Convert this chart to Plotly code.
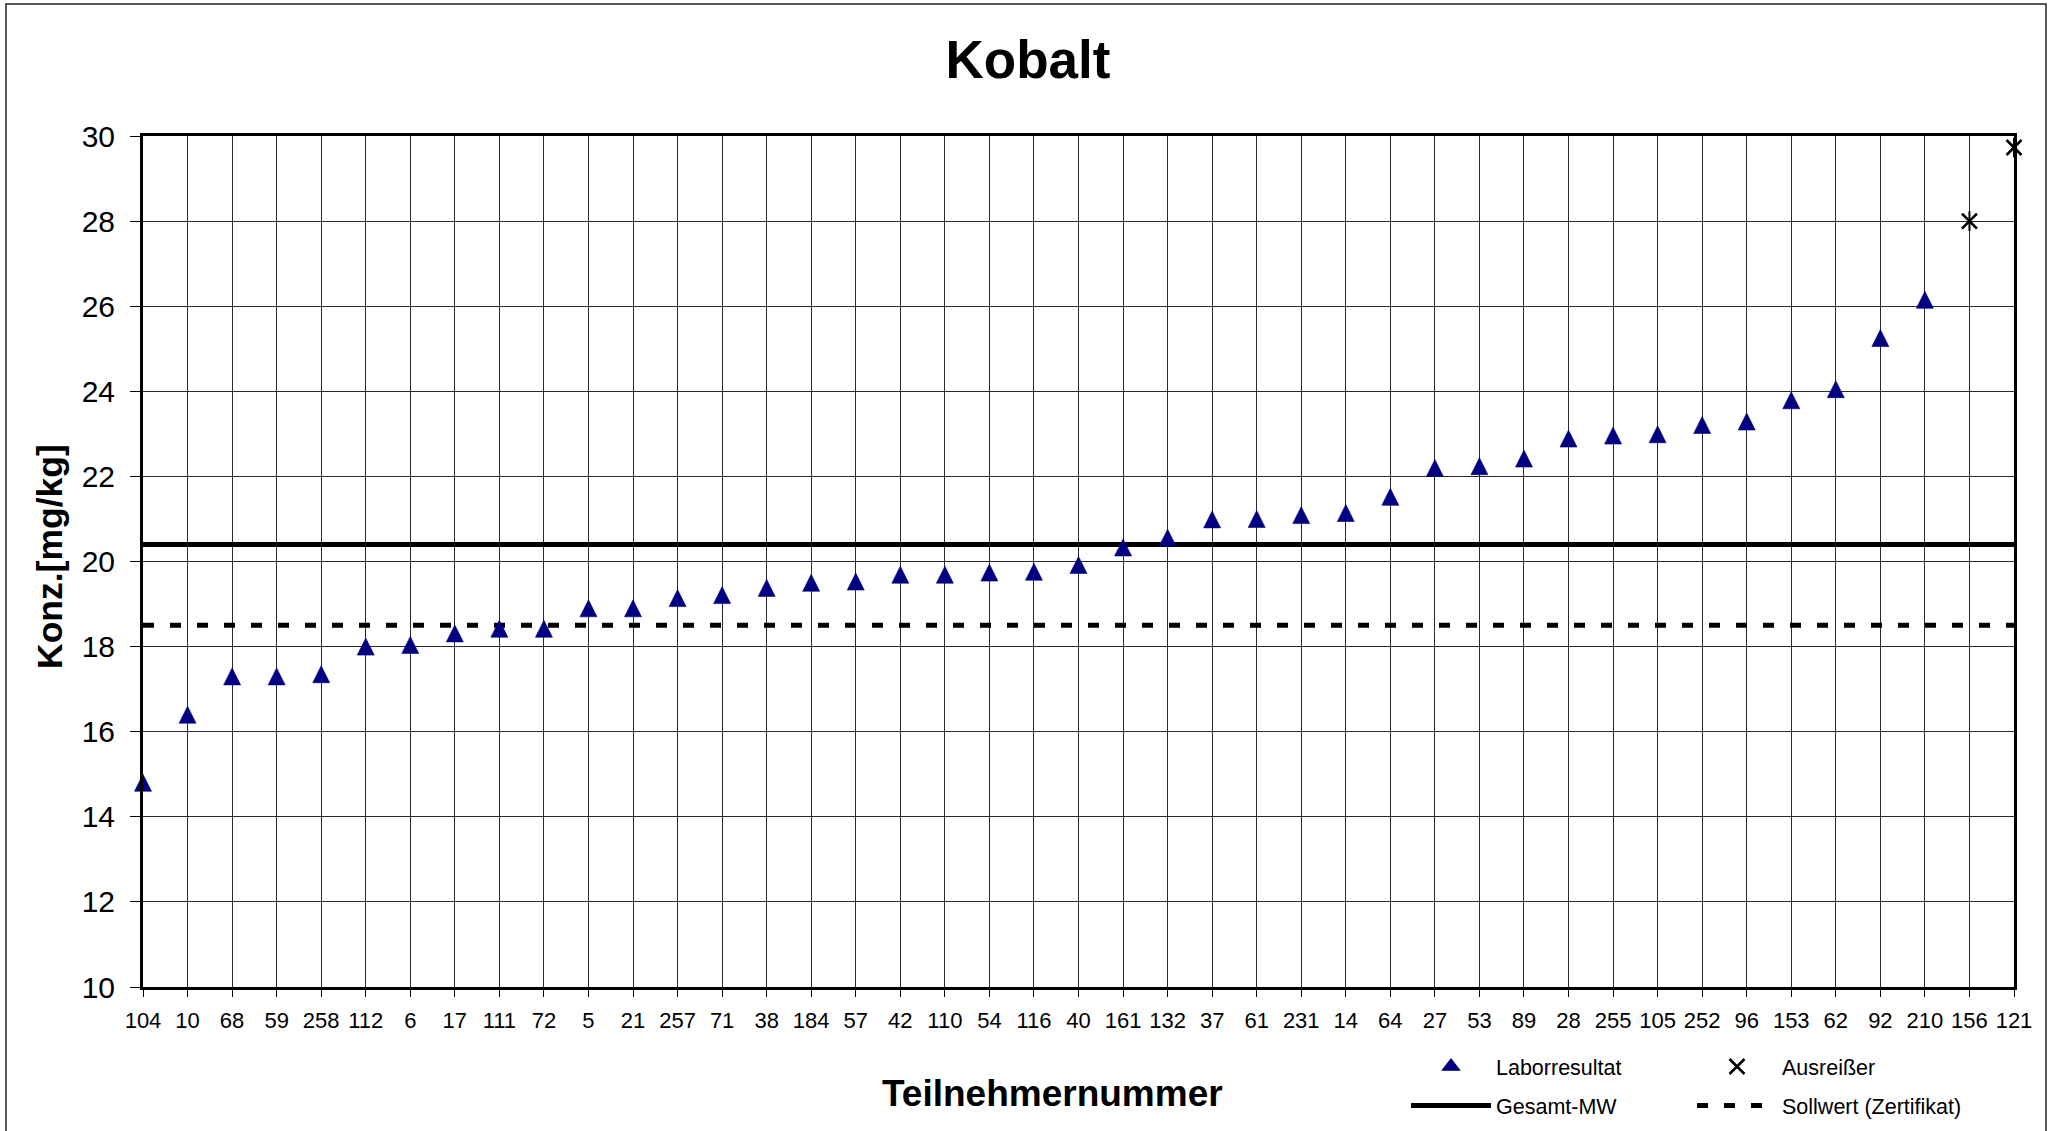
import plotly.graph_objects as go

# ---- data ----
categories = ["104", "10", "68", "59", "258", "112", "6", "17", "111", "72", "5", "21",
              "257", "71", "38", "184", "57", "42", "110", "54", "116", "40", "161", "132",
              "37", "61", "231", "14", "64", "27", "53", "89", "28", "255", "105", "252",
              "96", "153", "62", "92", "210", "156", "121"]
labor_labels = categories[:41]
labor_values = [14.8, 16.4, 17.3, 17.3, 17.35, 18.0, 18.04, 18.31, 18.42, 18.42, 18.9, 18.9,
                19.14, 19.21, 19.38, 19.5, 19.53, 19.69, 19.69, 19.74, 19.76, 19.92, 20.33, 20.56,
                20.99, 21.0, 21.09, 21.14, 21.52, 22.2, 22.24, 22.42, 22.89, 22.96, 22.99, 23.21,
                23.29, 23.79, 24.05, 25.25, 26.15]
outlier_labels = ["156", "121"]
outlier_values = [28.0, 29.73]
gesamt_mw = 20.4
sollwert = 18.5
y_ticks = [10, 12, 14, 16, 18, 20, 22, 24, 26, 28, 30]

FONT = "Liberation Sans, Arial, sans-serif"
NAVY = "#000080"

W, H = 2056, 1131
L, R, T, B = 143, 42, 136, 144
PW, PH = W - L - R, H - T - B


def px_x(p):
    return (p - L) / PW


def px_y(p):
    return (H - B - p) / PH


fig = go.Figure()

# reference lines
fig.add_trace(go.Scatter(
    x=[categories[0], categories[-1]], y=[gesamt_mw, gesamt_mw], mode="lines",
    name="Gesamt-MW", line=dict(color="black", width=5), legend="legend", legendrank=2,
    legendgroup="g2", hoverinfo="skip"))
fig.add_trace(go.Scatter(
    x=[categories[0], categories[-1]], y=[sollwert, sollwert], mode="lines",
    name="Sollwert (Zertifikat)", line=dict(color="black", width=5, dash="11px,16px"),
    legend="legend2", legendrank=2, legendgroup="g4", hoverinfo="skip"))

# lab results (upward triangle, centred on the point)
fig.add_trace(go.Scatter(
    x=labor_labels, y=labor_values, mode="markers", name="Laborresultat",
    marker=dict(symbol="arrow-down", angle=180, size=17, standoff=8.5, color=NAVY,
                line=dict(width=0.6, color=NAVY)),
    cliponaxis=False, showlegend=False, legendgroup="g1"))
# legend entry for the lab results
fig.add_trace(go.Scatter(
    x=[None], y=[None], mode="markers", name="Laborresultat",
    marker=dict(symbol="triangle-up", size=15, color=NAVY, line=dict(width=1.2, color=NAVY)),
    legend="legend", legendrank=1, legendgroup="g1"))

# outliers (x plus vertical bar)
fig.add_trace(go.Scatter(
    x=outlier_labels, y=outlier_values, mode="markers", name="Ausreißer",
    marker=dict(symbol="x-thin-open", size=15, color="black",
                line=dict(width=2.6, color="black")),
    cliponaxis=False, legend="legend2", legendrank=1, legendgroup="g3"))
fig.add_trace(go.Scatter(
    x=outlier_labels, y=outlier_values, mode="markers", showlegend=False,
    marker=dict(symbol="line-ns-open", size=14, color="black",
                line=dict(width=2, color="black")),
    cliponaxis=False))

fig.update_layout(
    width=W, height=H,
    margin=dict(l=L, r=R, t=T, b=B, autoexpand=False),
    paper_bgcolor="white", plot_bgcolor="white",
    font=dict(family=FONT, color="black"),
    title=dict(text="<b>Kobalt</b>", x=0.5, xref="container", xanchor="center",
               y=1 - 59 / H, yref="container", yanchor="middle",
               font=dict(family=FONT, size=53, color="black")),
    xaxis=dict(
        type="category", categoryorder="array", categoryarray=categories,
        range=[0, len(categories) - 1],
        showgrid=True, gridcolor="#2a2a2a", gridwidth=1,
        showline=True, linecolor="black", linewidth=3, mirror=True,
        ticks="outside", ticklen=7, tickwidth=1, tickcolor="black",
        tickfont=dict(family=FONT, size=22, color="black"),
        ticklabelstandoff=5,
        zeroline=False, fixedrange=True,
    ),
    yaxis=dict(
        range=[10, 30], tickvals=y_ticks, ticktext=[str(v) for v in y_ticks],
        showgrid=True, gridcolor="#2a2a2a", gridwidth=1,
        showline=True, linecolor="black", linewidth=3, mirror=True,
        ticks="outside", ticklen=10, tickwidth=1, tickcolor="black",
        tickfont=dict(family=FONT, size=30, color="black"),
        ticklabelstandoff=9,
        zeroline=False, fixedrange=True,
    ),
    legend=dict(
        x=px_x(1406), y=px_y(1046), xanchor="left", yanchor="top",
        font=dict(family=FONT, size=21.5, color="black"),
        itemwidth=80, bgcolor="rgba(0,0,0,0)", tracegroupgap=8,
    ),
    legend2=dict(
        x=px_x(1692), y=px_y(1046), xanchor="left", yanchor="top",
        font=dict(family=FONT, size=21.5, color="black"),
        itemwidth=80, bgcolor="rgba(0,0,0,0)", tracegroupgap=8,
    ),
    showlegend=True,
)

# axis titles
fig.add_annotation(
    text="<b>Teilnehmernummer</b>", x=px_x(1052), y=px_y(1093),
    xref="paper", yref="paper", xanchor="center", yanchor="middle",
    showarrow=False, font=dict(family=FONT, size=37, color="black"))
fig.add_annotation(
    text="<b>Konz.[mg/kg]</b>", x=px_x(50), y=px_y(557), textangle=-90,
    xref="paper", yref="paper", xanchor="center", yanchor="middle",
    showarrow=False, font=dict(family=FONT, size=35.5, color="black"))

# outer frame of the chart (bottom edge lies outside the picture, as in the original)
fig.add_shape(type="rect", xref="paper", yref="paper",
              x0=px_x(6), x1=px_x(2046), y0=px_y(1145), y1=px_y(4),
              line=dict(color="#222222", width=1.5), fillcolor="rgba(0,0,0,0)",
              layer="below")

fig.write_html("out.html", config={"displayModeBar": False},
               post_script="document.body.style.margin='0px';")
